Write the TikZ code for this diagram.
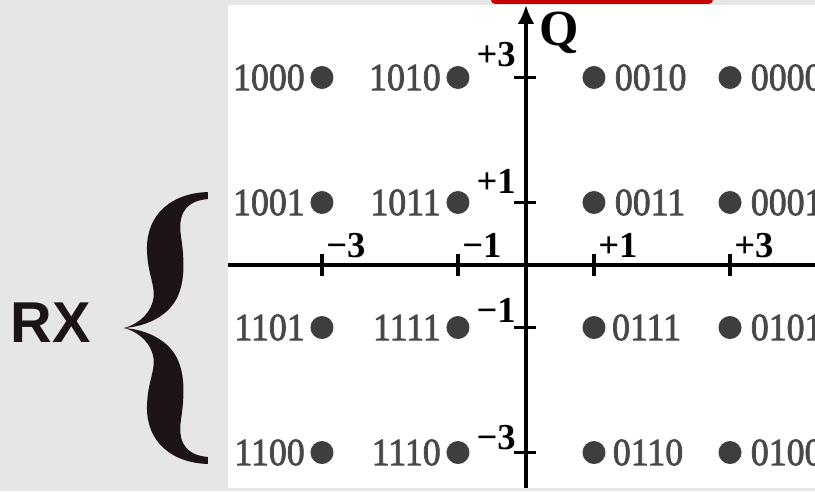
\documentclass[tikz,border=0pt]{standalone}
\usepackage{fontspec}
\setmainfont{Liberation Serif}
\newfontfamily\rxfont{Liberation Sans}
\newfontfamily\bitsfont[FakeBold=2]{Liberation Serif}
\usetikzlibrary{arrows.meta}
\definecolor{bg-gray}{RGB}{230,230,230}
\definecolor{dot-gray}{RGB}{62,62,62}
\definecolor{lab-gray}{RGB}{72,72,72}
\definecolor{brace-black}{RGB}{28,20,20}
\definecolor{TopRed}{RGB}{200,0,0}
\newcommand{\bitstr}[1]{\scalebox{1.04}[1.12]{#1}}
\tikzset{
  symbol/.style={circle, fill=dot-gray, inner sep=0pt, minimum size=0.575cm},
  bits/.style={text=lab-gray, inner sep=0pt, font=\bitsfont\fontsize{24.5}{28}\selectfont},
  ticklab/.style={inner sep=0pt, font=\bfseries\fontsize{26}{28}\selectfont},
  axis/.style={line width=2.5pt, draw=black},
  axistick/.style={line width=2.2pt, draw=black}
}

\begin{document}
\begin{tikzpicture}[x=1.7cm, y=1.5625cm]
\path[use as bounding box, fill=bg-gray] (-7.735,-3.616) rectangle (4.25,4.24);
% white plot panel and the red tab above it
\fill[white] (-4.382,-3.568) rectangle (4.25,4.16);
\fill[TopRed, rounded corners=3pt] (-0.515,4.176) rectangle (2.75,4.5);

% axes
\coordinate (iw) at (-4.382,0);
\coordinate (ie) at (4.25,0);
\coordinate (qs) at (0,-3.568);
\coordinate (qn) at (0,4.16);
\draw[axis] (iw) -- (ie);
\draw[axis, -{Latex[length=0.475cm, width=0.425cm]}] (qs) -- (qn);
\node[font=\bfseries\fontsize{36}{40}\selectfont, inner sep=0pt] (q) at (0.49,3.72) {Q};

\foreach \t in {-3,-1,1,3} {
  \draw[axistick] (\t,0) ++(0,-0.275cm) -- ++(0,0.55cm);
  \draw[axistick] (0,\t) ++(-0.3cm,0) -- ++(0.55cm,0);
}
\foreach \t/\s in {-3/−3,-1/−1,1/+1,3/+3}
  \node[ticklab, anchor=south west] (xlab\t) at ([shift={(0.1cm,0.17cm)}]\t,0) {\s};
\foreach \t/\s/\d in {3/+3/0.26cm,1/+1/0.22cm,-1/−1/0.12cm,-3/−3/0.07cm}
  \node[ticklab, anchor=south east] (ylab\t) at ([shift={(-0.25cm,\d)}]0,\t) {\s};

% constellation points
\foreach \x/\y/\b/\side/\d in {
  -3/3/1000/left/0.13cm, -1/3/1010/left/0.13cm, 1/3/0010/right/0.22cm, 3/3/0000/right/0.22cm,
  -3/1/1001/left/0.13cm, -1/1/1011/left/0.13cm, 1/1/0011/right/0.22cm, 3/1/0001/right/0.22cm,
  -3/-1/1101/left/0.13cm, -1/-1/1111/left/0.13cm, 1/-1/0111/right/0.15cm, 3/-1/0101/right/0.22cm,
  -3/-3/1100/left/0.13cm, -1/-3/1110/left/0.13cm, 1/-3/0110/right/0.17cm, 3/-3/0100/right/0.22cm}
  \node[symbol, label={[bits, label distance=\d]\side:\bitstr{\b}}] (s\b) at (\x,\y) {};

% brace and RX
\begin{scope}[shift={(-5.912,-1.008)}, x=0.025cm, y=0.025cm]
\foreach \s in {1,-1}
  \fill[brace-black, yscale=\s] (84,136) .. controls (48,135) and (23,114) .. (23,80)
    .. controls (23,52) and (34,40) .. (28,24) .. controls (24,12) and (12,3) .. (0,0)
    .. controls (26,2) and (45,14) .. (53,30) .. controls (62,48) and (60,72) .. (57,92)
    .. controls (54,112) and (60,127) .. (84,129) -- cycle;
\end{scope}
\node[font=\rxfont\bfseries\fontsize{41}{44}\selectfont, text=brace-black, inner sep=0pt] (rx) at (-6.985,-0.93) {RX};
\end{tikzpicture}
\end{document}
